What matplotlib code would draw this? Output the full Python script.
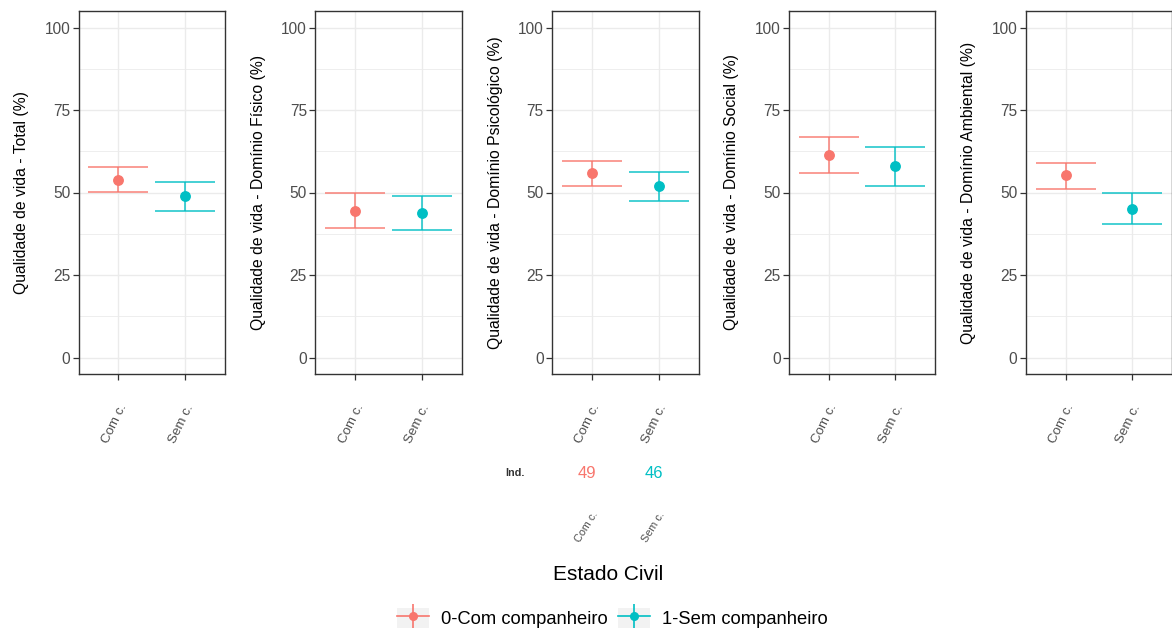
import matplotlib
matplotlib.use("Agg")
import matplotlib.pyplot as plt
import matplotlib.transforms as mtransforms
from matplotlib.lines import Line2D
from matplotlib.patches import Patch
from matplotlib.legend_handler import HandlerTuple

plt.rcParams['font.family'] = ['Liberation Sans', 'DejaVu Sans']

# data
groups = ["Com c.", "Sem c."]
legend_labels = ["0-Com companheiro", "1-Sem companheiro"]
colors = ["#F8766D", "#00BFC4"]
ylabels = ["Qualidade de vida - Total (%)",
           "Qualidade de vida - Domínio Físico (%)",
           "Qualidade de vida - Domínio Psicológico (%)",
           "Qualidade de vida - Domínio Social (%)",
           "Qualidade de vida - Domínio Ambiental (%)"]
mean_com = [53.9, 44.5, 55.9, 61.3, 55.2]
low_com = [50.2, 39.2, 51.9, 55.8, 51.1]
high_com = [57.6, 49.8, 59.5, 66.7, 58.9]
mean_sem = [48.9, 43.9, 52.0, 58.1, 45.1]
low_sem = [44.3, 38.6, 47.4, 51.9, 40.5]
high_sem = [53.1, 49.0, 56.3, 63.7, 49.8]
ind_n = [49, 46]
yticks = [0, 25, 50, 75, 100]

W, H = 1172, 631
fig = plt.figure(figsize=(W / 100, H / 100), dpi=100)

axes = []
for i in range(5):
    left = 78.5 + i * 236.8
    ax = fig.add_axes([left / W, 257 / H, 146.5 / W, 363 / H])
    axes.append(ax)
    means = [mean_com[i], mean_sem[i]]
    lows = [low_com[i], low_sem[i]]
    highs = [high_com[i], high_sem[i]]
    for j in range(2):
        x = j + 1
        ax.vlines(x, lows[j], highs[j], color=colors[j], lw=1.2, alpha=0.85, zorder=3)
        ax.hlines([lows[j], highs[j]], x - 0.45, x + 0.45, color=colors[j],
                  lw=1.2, alpha=0.85, zorder=3)
        ax.plot(x, means[j], 'o', color=colors[j], ms=6.8, zorder=4)

    ax.set_xlim(0.4, 2.6)
    ax.set_ylim(-5, 105)
    ax.set_yticks(yticks)
    ax.set_yticks([12.5, 37.5, 62.5, 87.5], minor=True)
    ax.set_xticks([1, 2])
    ax.set_xticklabels([])
    ax.grid(True, which='major', color='#EBEBEB', lw=1.0)
    ax.grid(True, which='minor', axis='y', color='#EBEBEB', lw=0.6)
    ax.set_axisbelow(True)
    ax.tick_params(axis='both', which='major', length=4, width=0.9,
                   color='#333333', labelcolor='#4D4D4D', labelsize=11.2, pad=2)
    ax.tick_params(axis='y', which='minor', length=0)
    for s in ax.spines.values():
        s.set_color('#333333')
        s.set_linewidth(1.0)
    ax.set_ylabel(ylabels[i], fontsize=11.3, va='center')
    ax.yaxis.set_label_coords(-57 / 146.5, 0.5)

    tr = mtransforms.offset_copy(ax.get_xaxis_transform(), fig=fig,
                                 x=-4, y=-49.5, units='dots')
    for j, g in enumerate(groups):
        ax.text(j + 1, 0, g, transform=tr, rotation=64, ha='center', va='center',
                fontsize=9.6, color='#4D4D4D')

# count table under the middle panel
ax3 = axes[2]
trn = mtransforms.blended_transform_factory(ax3.transData, fig.transFigure)
trn = mtransforms.offset_copy(trn, fig=fig, x=-5, y=0, units='dots')
fig.text(515 / W, 1 - 473 / H, "Ind.", fontsize=7.8, fontweight='bold',
         color='#333333', ha='center', va='center')
for j in range(2):
    fig.text(j + 1, 1 - 473 / H, str(ind_n[j]), transform=trn, color=colors[j],
             fontsize=12, ha='center', va='center')
    fig.text(j + 1, 1 - 527 / H, groups[j], transform=trn, color='#4D4D4D',
             fontsize=7.8, rotation=58, ha='center', va='center')

fig.text(608 / W, 1 - 574 / H, "Estado Civil", fontsize=15, color='black',
         ha='center', va='center')

handles = []
for c in colors:
    bg = Patch(facecolor='#F2F2F2', edgecolor='none')
    hl = Line2D([], [], color=c, lw=1.2, marker='o', ms=5.5)
    vl = Line2D([], [], color=c, lw=0, marker='|', ms=17, mew=1.2)
    handles.append((bg, hl, vl))
fig.legend(handles, legend_labels, loc='center', bbox_to_anchor=(612.5 / W, 13 / H),
           ncol=2, frameon=False, fontsize=13.2, handlelength=1.75, handleheight=1.35,
           handletextpad=0.65, columnspacing=0.55, borderpad=0, borderaxespad=0,
           handler_map={tuple: HandlerTuple(ndivide=1, pad=0)})

fig.savefig("out.png", dpi=100)
